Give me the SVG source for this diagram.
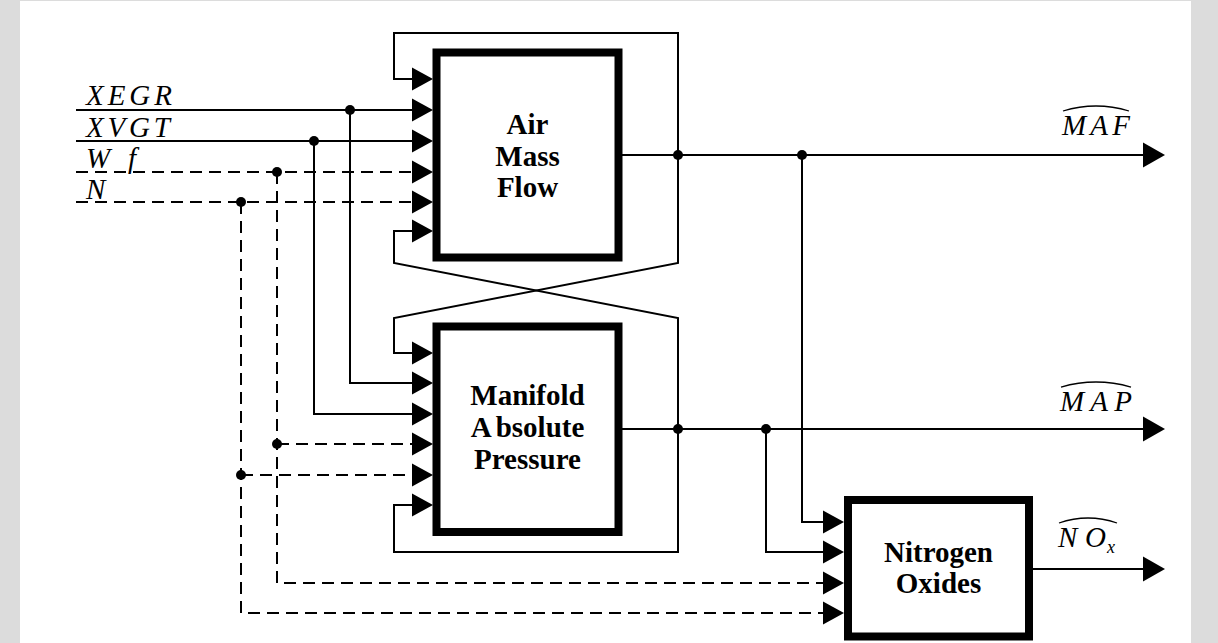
<svg xmlns="http://www.w3.org/2000/svg" xmlns:xlink="http://www.w3.org/1999/xlink" width="1218" height="643" viewBox="0 0 1218 643">
<defs>
<style>
.w{stroke:#000;stroke-width:2;fill:none}
.d{stroke:#000;stroke-width:2;fill:none;stroke-dasharray:12 7}
.box{fill:#fff;stroke:#000;stroke-width:8}
.lbl{font-family:"Liberation Serif","Times New Roman",serif;font-weight:bold;font-size:29px;text-anchor:middle;fill:#000}
.m{font-family:"Liberation Serif","Times New Roman",serif;font-style:italic;font-size:29px;fill:#000}
.hat{stroke:#000;stroke-width:1.3;fill:none}
.dot{fill:#000}
</style>
<path id="tin" d="M0,-11.5 L21,0 L0,11.5 Z" fill="#000"/>
<path id="tout" d="M0,-12.5 L22,0 L0,12.5 Z" fill="#000"/>
</defs>
<rect x="0" y="0" width="1218" height="643" fill="#dcdcdc"/>
<rect x="20" y="1" width="1171" height="642" fill="#fff"/>

<g id="connectors">
  <path class="w" d="M76,110 H412"/>
  <path class="w" d="M76,141 H412"/>
  <path class="d" d="M76,172 H412"/>
  <path class="d" d="M76,202 H412"/>
  <path class="w" d="M350,110 V383 H412"/>
  <path class="w" d="M314,141 V414 H412"/>
  <path class="d" d="M277,172 V583 H823"/>
  <path class="d" d="M277,444 H412"/>
  <path class="d" d="M241,202 V613 H823"/>
  <path class="d" d="M241,475 H412"/>
  <path class="w" d="M678,155 V33 H394 V79 H412"/>
  <path class="w" d="M678,155 V263 L394,318 V353 H412"/>
  <path class="w" d="M412,231 H394 V263 L678,318 V552 H394 V505 H412"/>
  <path class="w" d="M622,155 H1143"/>
  <path class="w" d="M622,429 H1143"/>
  <path class="w" d="M802,155 V522 H823"/>
  <path class="w" d="M766,429 V552 H823"/>
  <path class="w" d="M1033,569 H1143"/>
  <circle class="dot" cx="350" cy="110" r="5"/>
  <circle class="dot" cx="314" cy="141" r="5"/>
  <circle class="dot" cx="277" cy="172" r="5"/>
  <circle class="dot" cx="241" cy="202" r="5"/>
  <circle class="dot" cx="277" cy="444" r="5"/>
  <circle class="dot" cx="241" cy="475" r="5"/>
  <circle class="dot" cx="678" cy="155" r="5"/>
  <circle class="dot" cx="802" cy="155" r="5"/>
  <circle class="dot" cx="678" cy="429" r="5"/>
  <circle class="dot" cx="766" cy="429" r="5"/>
  <use xlink:href="#tin" x="412" y="79"/>
  <use xlink:href="#tin" x="412" y="110"/>
  <use xlink:href="#tin" x="412" y="141"/>
  <use xlink:href="#tin" x="412" y="172"/>
  <use xlink:href="#tin" x="412" y="202"/>
  <use xlink:href="#tin" x="412" y="231"/>
  <use xlink:href="#tin" x="412" y="353"/>
  <use xlink:href="#tin" x="412" y="383"/>
  <use xlink:href="#tin" x="412" y="414"/>
  <use xlink:href="#tin" x="412" y="444"/>
  <use xlink:href="#tin" x="412" y="475"/>
  <use xlink:href="#tin" x="412" y="505"/>
  <use xlink:href="#tin" x="823" y="522"/>
  <use xlink:href="#tin" x="823" y="552"/>
  <use xlink:href="#tin" x="823" y="583"/>
  <use xlink:href="#tin" x="823" y="613"/>
  <use xlink:href="#tout" x="1143" y="155"/>
  <use xlink:href="#tout" x="1143" y="429"/>
  <use xlink:href="#tout" x="1143" y="569"/>
</g>

<g id="inputs">
  <text class="m" x="86" y="105" textLength="86" lengthAdjust="spacing">XEGR</text>
  <text class="m" x="86" y="137" textLength="84" lengthAdjust="spacing">XVGT</text>
  <text class="m" x="86" y="168" textLength="50" lengthAdjust="spacing">Wf</text>
  <text class="m" x="86" y="199">N</text>
</g>

<g id="node-amf">
  <rect class="box" x="436.5" y="52.5" width="182" height="205"/>
  <text class="lbl" x="527.5" y="134">Air</text>
  <text class="lbl" x="527.5" y="166">Mass</text>
  <text class="lbl" x="527.5" y="197">Flow</text>
</g>

<g id="node-map">
  <rect class="box" x="436.5" y="326.5" width="182" height="205.5"/>
  <text class="lbl" x="527.5" y="405">Manifold</text>
  <text class="lbl" x="527.5" y="437">A<tspan dx="4">bsolute</tspan></text>
  <text class="lbl" x="527.5" y="469">Pressure</text>
</g>

<g id="node-nox">
  <rect class="box" x="848" y="500" width="181" height="136.5"/>
  <text class="lbl" x="938.5" y="562">Nitrogen</text>
  <text class="lbl" x="938.5" y="593">Oxides</text>
</g>

<g id="outputs">
  <text class="m" x="1062" y="135" textLength="68" lengthAdjust="spacing">MAF</text>
  <path class="hat" d="M1063,111 Q1096,101 1129,111"/>
  <text class="m" x="1060" y="411" textLength="72" lengthAdjust="spacing">MAP</text>
  <path class="hat" d="M1061,387 Q1096,377 1131,387"/>
  <text class="m" x="1058" y="547" textLength="48" lengthAdjust="spacing">NO</text>
  <text class="m" x="1107" y="553" style="font-size:18px">x</text>
  <path class="hat" d="M1059,523 Q1088,513 1117,523"/>
</g>
</svg>
